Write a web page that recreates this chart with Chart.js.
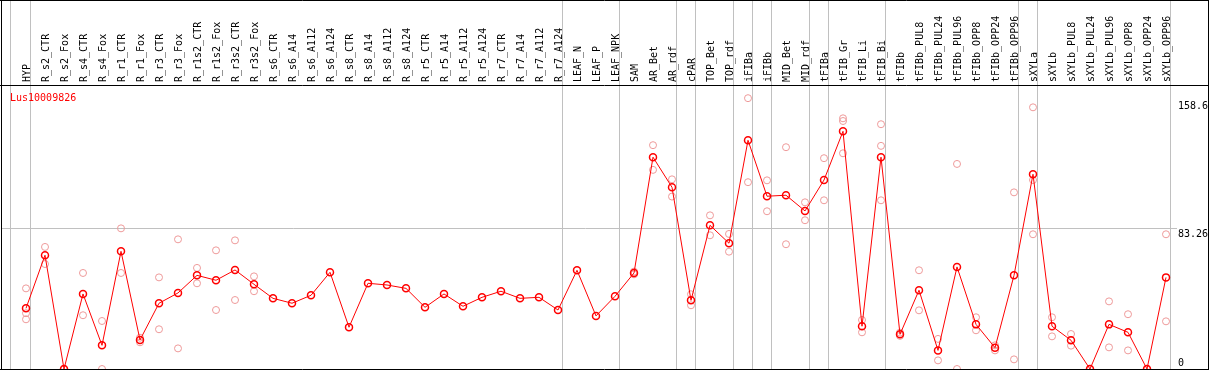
<!DOCTYPE html>
<html>
<head>
<meta charset="utf-8">
<script src="https://cdn.jsdelivr.net/npm/chart.js@4/dist/chart.umd.min.js"></script>
<style>
    body { margin: 0; background: #fff; }
    canvas { display: block; }
</style>
</head>
<body>
<canvas id="exprChart" width="1209" height="370"></canvas>
<script>

/* ================= DATA ================= */

const geneName = 'Lus10009826';

const samples = [
    'HYP', 'R_s2_CTR', 'R_s2_Fox', 'R_s4_CTR', 'R_s4_Fox', 'R_r1_CTR', 'R_r1_Fox',
    'R_r3_CTR', 'R_r3_Fox', 'R_r1s2_CTR', 'R_r1s2_Fox', 'R_r3s2_CTR', 'R_r3s2_Fox',
    'R_s6_CTR', 'R_s6_A14', 'R_s6_A112', 'R_s6_A124', 'R_s8_CTR', 'R_s8_A14',
    'R_s8_A112', 'R_s8_A124', 'R_r5_CTR', 'R_r5_A14', 'R_r5_A112', 'R_r5_A124',
    'R_r7_CTR', 'R_r7_A14', 'R_r7_A112', 'R_r7_A124', 'LEAF_N', 'LEAF_P', 'LEAF_NPK',
    'SAM', 'AR_Bet', 'AR_rdf', 'cPAR', 'TOP_Bet', 'TOP_rdf', 'iFIBa', 'iFIBb',
    'MID_Bet', 'MID_rdf', 'tFIBa', 'tFIB_Gr', 'tFIB_Li', 'tFIB_Bi', 'tFIBb',
    'tFIBb_PUL8', 'tFIBb_PUL24', 'tFIBb_PUL96', 'tFIBb_OPP8', 'tFIBb_OPP24', 'tFIBb_OPP96',
    'sXYLa', 'sXYLb', 'sXYLb_PUL8', 'sXYLb_PUL24', 'sXYLb_PUL96', 'sXYLb_OPP8',
    'sXYLb_OPP24', 'sXYLb_OPP96'
];

// mean expression per sample
const meanValues = [
    35.9, 67.3, 0, 44.4, 14.0, 69.6, 17.2, 38.9, 45.0, 55.4, 52.5, 58.6, 50.1,
    41.8, 38.9, 43.6, 57.2, 24.7, 50.7, 49.7, 47.7, 36.5, 44.4, 37.1, 42.4,
    46.0, 41.8, 42.4, 34.9, 58.4, 31.4, 43.0,
    56.8, 125.3, 107.5, 40.6, 85.0, 74.4, 135.3, 102.2, 102.8, 93.5, 111.8,
    140.6, 25.3, 125.3, 20.5, 46.6, 11.0, 60.4, 26.4, 12.6, 55.4,
    115.2, 25.3, 17.0, 0, 26.4, 21.7, 0, 54.2
];

// individual replicates (null = no replicate)
const repA = [
    47.7, 72.2, 0, 56.8, 28.4, 83.2, 15.8, 54.2, 76.7, 59.8, 70.2, 76.1, 54.8,
    null, null, null, null, null, null, null, null, null, null, null, null,
    null, null, null, null, null, null, null,
    56.0, 132.4, 112.2, 44.2, 90.9, 79.9, 160.2, 111.6, 131.2, 98.6, 124.7,
    148.3, 29.0, 144.8, 21.5, 58.4, 17.8, 121.3, 30.6, 11.0, 104.5,
    154.8, 30.6, 20.7, 0, 40.0, 32.4, 0, 79.7
];

const repB = [
    33.0, 62.1, 0, 31.8, 0, 56.8, 18.5, 23.5, 12.2, 50.7, 34.9, 40.8, 46.0,
    null, null, null, null, null, null, null, null, null, null, null, null,
    null, null, null, null, null, null, null,
    57.6, 117.8, 102.0, 37.7, 79.1, 69.4, 110.5, 93.3, 73.8, 88.0, 99.8,
    146.7, 21.7, 132.0, 19.6, 34.7, 5.1, 0, 22.9, 14.0, 5.7,
    111.8, 19.3, 13.8, 0, 12.8, 11.0, 0, 28.2
];

const repC = [
    29.4, null, null, null, null, null, null, null, null, null, null, null, null,
    null, null, null, null, null, null, null, null, null, null, null, null,
    null, null, null, null, null, null, null,
    null, null, null, null, null, null, null, null, null, null, null,
    127.6, null, 99.8, null, null, null, null, null, null, null,
    79.7, null, null, null, null, null, null, null
];

// group separators come after these sample indexes
const groupEnds = [-1, 0, 28, 31, 34, 35, 37, 38, 39, 41, 42, 45, 52, 53, 60];

const yTicks = [0, 83.26, 158.6];


/* ================= HELPERS ================= */

const monoFont = "'DejaVu Sans Mono', monospace";

const meanPoints = meanValues.map((v, i) => ({ x: i, y: v }));

const repPoints = [];
[repA, repB, repC].forEach(function(rep) {
    rep.forEach(function(v, i) {
        if (v !== null) repPoints.push({ x: i, y: v });
    });
});

const separatorPos = groupEnds.map(g => g === -1 ? -0.84 : g + 0.23);

// no extra room for overflowing tick labels
function noPadding(scale) {
    scale.paddingLeft = 0;
    scale.paddingRight = 0;
    scale.paddingTop = 0;
    scale.paddingBottom = 0;
}

/* border lines + gene name */
const framePlugin = {
    id: 'frame',
    afterDraw(chart) {
        const ctx = chart.ctx;
        const area = chart.chartArea;
        ctx.save();
        ctx.strokeStyle = '#000';
        ctx.lineWidth = 1;
        ctx.beginPath();
        ctx.moveTo(0, 0.5); ctx.lineTo(1209, 0.5);
        ctx.moveTo(0, area.top + 0.5); ctx.lineTo(1209, area.top + 0.5);
        ctx.moveTo(0, 369.5); ctx.lineTo(1209, 369.5);
        ctx.moveTo(1.5, 0); ctx.lineTo(1.5, 370);
        ctx.moveTo(1208.5, 0); ctx.lineTo(1208.5, 370);
        ctx.stroke();

        ctx.fillStyle = '#ff0000';
        ctx.font = '10px ' + monoFont;
        ctx.textBaseline = 'alphabetic';
        ctx.fillText(geneName, 10, 100.5);
        ctx.restore();
    }
};


/* ================= CHART ================= */

new Chart(document.getElementById('exprChart'), {

    data: {
        datasets: [{
            type: 'line',
            label: 'mean',
            data: meanPoints,
            xAxisID: 'xTop',
            borderColor: '#ff0000',
            borderWidth: 1,
            pointRadius: 3.5,
            pointBorderWidth: 1.5,
            pointBorderColor: '#ff0000',
            pointBackgroundColor: 'rgba(0,0,0,0)',
            tension: 0,
            clip: false,
            order: 0
        }, {
            type: 'scatter',
            label: 'replicates',
            data: repPoints,
            xAxisID: 'xTop',
            pointRadius: 3.5,
            pointBorderWidth: 1,
            pointBorderColor: '#ee9a9a',
            pointBackgroundColor: 'rgba(0,0,0,0)',
            clip: false,
            order: 1
        }]
    },

    options: {
        responsive: false,
        animation: false,
        devicePixelRatio: 1,
        layout: {
            autoPadding: false,
            padding: { left: 1, right: 0, top: 0, bottom: 1 }
        },
        plugins: {
            legend: { display: false },
            tooltip: { enabled: false }
        },
        scales: {

            xTop: {
                type: 'linear',
                position: 'top',
                min: -25 / 19,
                max: 1144 / 19,
                afterBuildTicks: function(scale) {
                    const vals = samples.map((s, i) => i).concat(separatorPos);
                    vals.sort((a, b) => a - b);
                    scale.ticks = vals.map(v => ({ value: v }));
                },
                afterFit: function(scale) {
                    scale.height = 85;
                    noPadding(scale);
                },
                border: { display: false },
                grid: {
                    drawTicks: true,
                    tickLength: 85,
                    lineWidth: 1,
                    color: function(ctx) {
                        return Number.isInteger(ctx.tick.value) ? 'rgba(0,0,0,0)' : '#c0c0c0';
                    }
                },
                ticks: {
                    autoSkip: false,
                    minRotation: 90,
                    maxRotation: 90,
                    padding: -82,
                    labelOffset: 13,
                    color: '#000',
                    font: { family: monoFont, size: 10 },
                    callback: function(value) {
                        return Number.isInteger(value) ? samples[value] : '';
                    }
                }
            },

            y: {
                position: 'right',
                min: 0,
                max: 168,
                afterBuildTicks: function(scale) {
                    scale.ticks = yTicks.map(v => ({ value: v }));
                },
                afterFit: function(scale) {
                    scale.width = 39;
                    noPadding(scale);
                },
                border: { display: false },
                grid: {
                    drawTicks: true,
                    tickLength: 7,
                    color: function(ctx) {
                        return ctx.tick && ctx.tick.value === 83.26 ? '#c0c0c0' : 'rgba(0,0,0,0)';
                    }
                },
                ticks: {
                    padding: 1,
                    color: '#000',
                    font: { family: monoFont, size: 10 },
                    callback: function(value) {
                        return value === 0 ? ['0', ''] : ['', String(value)];
                    }
                }
            }
        }
    },

    plugins: [framePlugin]
});

</script>
</body>
</html>
